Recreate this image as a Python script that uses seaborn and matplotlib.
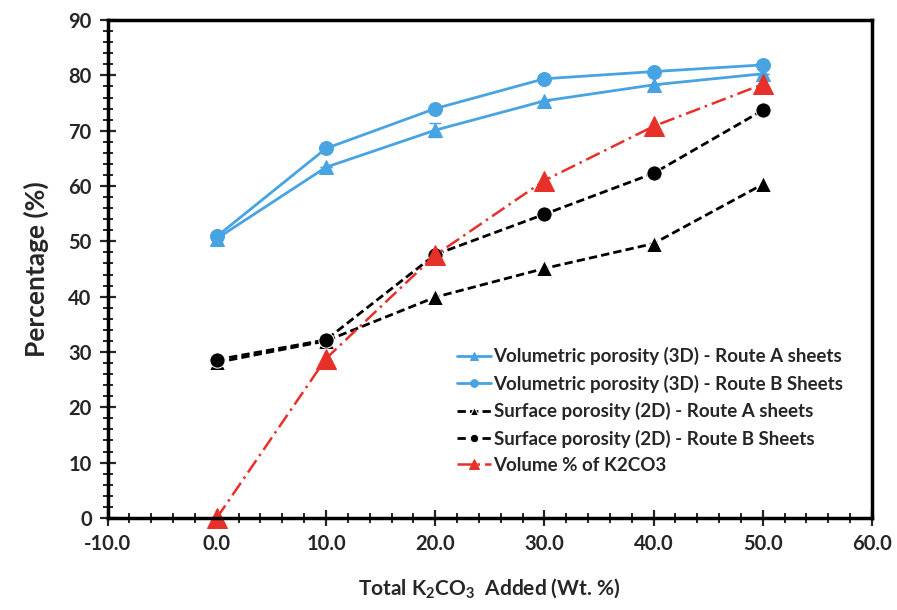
import matplotlib
matplotlib.use("Agg")
import matplotlib.pyplot as plt
import seaborn as sns
from matplotlib.ticker import MultipleLocator, FormatStrFormatter

# Data
k2co3_added = [0, 10, 20, 30, 40, 50]
vol_route_a = [50.5, 63.4, 70.1, 75.4, 78.3, 80.3]
vol_route_b = [50.9, 66.8, 74.0, 79.4, 80.7, 81.9]
surf_route_a = [28.1, 32.0, 39.9, 45.1, 49.6, 60.3]
surf_route_b = [28.6, 32.2, 47.6, 54.9, 62.3, 73.7]
volume_k2co3 = [0.0, 28.8, 47.5, 61.0, 70.8, 78.4]
vol_route_a_err = [0, 0, 1.3, 0, 0, 0]

labels = [
    "Volumetric porosity (3D) - Route A sheets",
    "Volumetric porosity (3D) - Route B Sheets",
    "Surface porosity (2D) - Route A sheets",
    "Surface porosity (2D) - Route B Sheets",
    "Volume % of K2CO3",
]

sns.set_style("white")
plt.rcParams['font.family'] = ['Lato', 'DejaVu Sans']
plt.rcParams['mathtext.fontset'] = 'custom'
plt.rcParams['mathtext.rm'] = 'Lato'
plt.rcParams['mathtext.bf'] = 'Lato:bold'
plt.rcParams['mathtext.default'] = 'bf'

blue = "#48A3E2"
red = "#E8302A"

fig, ax = plt.subplots(figsize=(8.97, 6.10), dpi=100)
fig.subplots_adjust(left=0.12, right=0.972, top=0.967, bottom=0.151)

ax.errorbar(k2co3_added, vol_route_a, yerr=vol_route_a_err, fmt="none",
            ecolor=blue, elinewidth=1.2, capsize=4, zorder=1)

sns.lineplot(x=k2co3_added, y=vol_route_a, ax=ax, color=blue, marker="^",
             markersize=10, markeredgecolor=blue, linewidth=2, label=labels[0])
sns.lineplot(x=k2co3_added, y=vol_route_b, ax=ax, color=blue, marker="o",
             markersize=10, markeredgecolor=blue, linewidth=2, label=labels[1])
sns.lineplot(x=k2co3_added, y=surf_route_a, ax=ax, color="black", marker="^",
             markersize=11, linestyle=(0, (3, 1.5)), linewidth=2, label=labels[2])
sns.lineplot(x=k2co3_added, y=surf_route_b, ax=ax, color="black", marker="o",
             markersize=11, linestyle=(0, (3, 1.5)), linewidth=2, label=labels[3])
sns.lineplot(x=k2co3_added, y=volume_k2co3, ax=ax, color=red, marker="^",
             markersize=14, markeredgecolor=red, linestyle=(0, (6, 2, 1, 2)),
             linewidth=1.8, label=labels[4])

for ln in ax.get_lines():
    ln.set_clip_on(False)

ax.set_xlim(-10, 60)
ax.set_ylim(0, 90)
ax.xaxis.set_major_locator(MultipleLocator(10))
ax.xaxis.set_minor_locator(MultipleLocator(2))
ax.yaxis.set_major_locator(MultipleLocator(10))
ax.yaxis.set_minor_locator(MultipleLocator(2))
ax.xaxis.set_major_formatter(FormatStrFormatter("%.1f"))

ax.tick_params(which="major", direction="inout", length=11, width=1.6,
               bottom=True, left=True, labelsize=14.5, pad=6)
ax.tick_params(which="minor", direction="inout", length=7, width=1.4,
               bottom=True, left=True)
for lab in ax.get_xticklabels() + ax.get_yticklabels():
    lab.set_fontweight("bold")

for side in ax.spines.values():
    side.set_color("black")
    side.set_linewidth(2.5)

ax.set_xlabel(r"Total K$_2$CO$_3$  Added (Wt. %)", fontsize=15,
              fontweight="bold", labelpad=16)
ax.set_ylabel("Percentage (%)", fontsize=19, fontweight="bold", labelpad=14)

leg = ax.legend(loc="upper left", bbox_to_anchor=(0.435, 0.377),
                fontsize=13.5, frameon=False, handlelength=1.8,
                handletextpad=0.15, markerscale=0.55, labelspacing=0.5)
for t in leg.get_texts():
    t.set_fontweight("bold")

plt.savefig("out.png", dpi=100)
plt.close()
